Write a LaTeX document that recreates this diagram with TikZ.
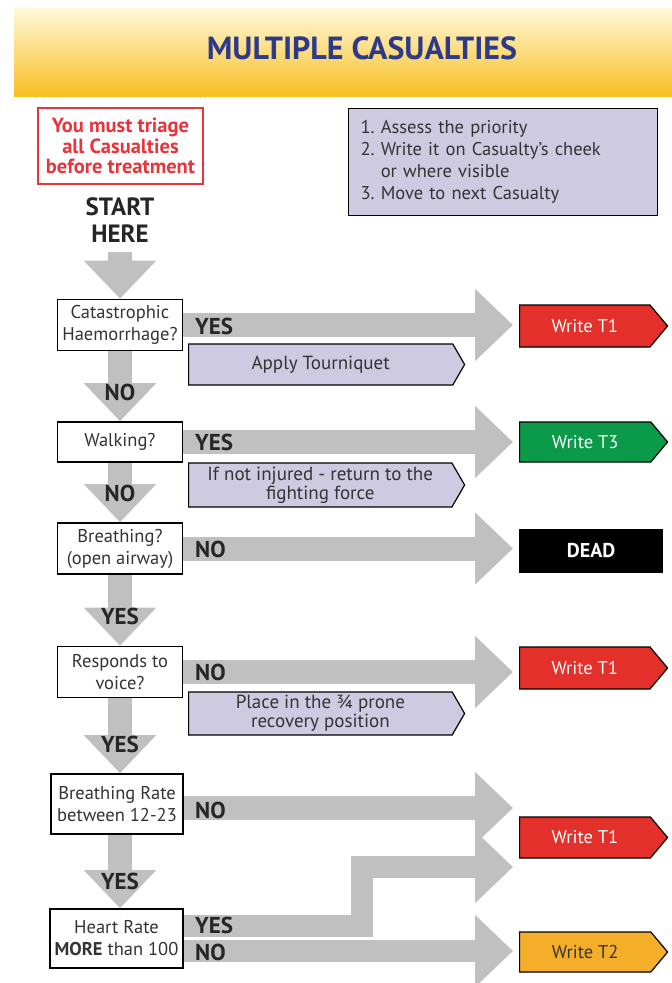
\documentclass[tikz,border=0pt]{standalone}
\usepackage{fontspec}
\setmainfont{PT Sans}
\usetikzlibrary{arrows.meta,shapes.symbols,backgrounds,positioning}

\definecolor{arrowgray}{HTML}{C0C0C0}
\definecolor{lilac}{HTML}{CECAE2}
\definecolor{triagered}{HTML}{E3302A}
\definecolor{triagegreen}{HTML}{0B9A4A}
\definecolor{triageamber}{HTML}{F5AE2A}
\definecolor{titleblue}{HTML}{2D3A8A}
\definecolor{warnred}{HTML}{E8343A}
\definecolor{inkgray}{HTML}{333333}

\tikzset{
  question/.style={draw=black, line width=1.6pt, fill=white, align=center,
    text=inkgray, inner sep=0pt, font=\fontsize{18.5}{22}\selectfont},
  fatarrow/.style={draw=arrowgray, line width=24pt, line join=miter,
    -{Triangle[length=38pt,width=70pt]}},
  outcome/.style={signal, signal to=east, signal pointer angle=100,
    draw=black, line width=1.2pt, anchor=west, minimum width=148pt,
    minimum height=42pt, font=\fontsize{18.5}{20}\selectfont},
  advice/.style={signal, signal to=east, signal pointer angle=120,
    draw=black, line width=1.2pt, fill=lilac, anchor=west, align=center,
    minimum width=276pt, inner sep=0pt, text=inkgray, font=\fontsize{19}{19}\selectfont},
  answer/.style={font=\fontsize{23}{24}\bfseries\selectfont, text=black!85,
    inner sep=0pt},
}

\begin{document}
\begin{tikzpicture}[x=1pt, y=-1pt]
  \useasboundingbox (0,0) rectangle (672,983);

  \node[minimum width=658pt, minimum height=88pt, inner sep=0pt,
    top color=yellow!10!white!95!orange, bottom color=triageamber!80!yellow]
    (banner) at (343,52) {};
  \node[font=\fontsize{32}{34}\bfseries\selectfont, text=titleblue] (title) at (362,48) {MULTIPLE CASUALTIES};

  \node[draw=warnred, line width=1.6pt, text=warnred, align=center,
    minimum width=165pt, minimum height=76pt, inner sep=0pt,
    font=\fontsize{20.5}{20.5}\bfseries\selectfont] (warn) at (120.5,146)
    {You must triage\\all Casualties\\before treatment};
  \node[font=\fontsize{25}{27}\bfseries\selectfont, align=center, text=black!85,
    inner sep=0pt] (start) at (120,220) {START\\HERE};

  \node[draw=black, line width=1.2pt, fill=lilac, anchor=north west,
    minimum width=302pt, minimum height=107pt, text width=285pt, align=left,
    inner xsep=12pt, text=inkgray, font=\fontsize{18.5}{22}\selectfont] (steps) at (348,108)
    {1.~Assess the priority\\2.~Write it on Casualty’s cheek\\
     \phantom{2.~}or where visible\\3.~Move to next Casualty};

  \coordinate (col) at (120,0);

  \node[question, minimum width=125pt, minimum height=51pt] (haem) at (120,325) {Catastrophic\\Haemorrhage?};
  \node[question, minimum width=125pt, minimum height=40pt] (walk) at (120,442) {Walking?};
  \node[question, minimum width=125pt, minimum height=51pt] (breath) at (120,548.5) {Breathing?\\(open airway)};
  \node[question, minimum width=125pt, minimum height=51pt] (voice) at (120,672) {Responds to\\voice?};
  \node[question, minimum width=132pt, minimum height=60pt] (rate) at (117,804) {Breathing Rate\\between 12-23};
  \node[question, minimum width=133pt, minimum height=59pt] (heart) at (116.5,938.5) {Heart Rate\\\textbf{MORE} than 100};

  \node[outcome, fill=triagered, text=white] (t1a) at (519,326) {Write T1};
  \node[outcome, fill=triagegreen, text=white, minimum height=40pt] (t3) at (519,442) {Write T3};
  \node[draw=black, line width=1.2pt, fill=black, text=white, anchor=west,
    minimum width=143pt, minimum height=42pt,
    font=\fontsize{20}{20}\bfseries\selectfont] (dead) at (519,551) {DEAD};
  \node[outcome, fill=triagered, text=white] (t1b) at (519,668) {Write T1};
  \node[outcome, fill=triagered, text=white, minimum height=41pt] (t1c) at (519,837.5) {Write T1};
  \node[outcome, fill=triageamber, text=inkgray, minimum height=40pt] (t2) at (519,952) {Write T2};

  \node[advice, minimum height=41pt] (tourniquet) at (188,364.5) {Apply Tourniquet};
  \node[advice, minimum height=44pt] (fighting) at (188,485) {If not injured - return to the\\fighting force};
  \node[advice, minimum height=43pt] (recovery) at (188,713.5) {Place in the ¾ prone\\recovery position};

  \coordinate (bend) at (362,867);

  \begin{scope}[on background layer]
    \draw[fatarrow] (start.south |- 0,252) -- (haem.north);
    \draw[fatarrow] (haem.south) -- (walk.north);
    \draw[fatarrow] (walk.south) -- (breath.north);
    \draw[fatarrow] (breath.south) -- (voice.north);
    \draw[fatarrow] (voice.south) -- (rate.north -| col);
    \draw[fatarrow] (rate.south -| col) -- (heart.north -| col);

    \draw[fatarrow, shorten >=6pt] (haem.east) -- (haem.east -| t1a.west);
    \draw[fatarrow, shorten >=6pt] (walk.east) -- (t3.west);
    \draw[fatarrow, shorten >=6pt] (breath.east) -- (breath.east -| dead.west);
    \draw[fatarrow, shorten >=6pt] (voice.east) -- (voice.east -| t1b.west);
    \draw[fatarrow, shorten >=6pt] ([yshift=-4pt]rate.east) -- ([yshift=-4pt]rate.east -| t1c.west);
    \draw[fatarrow, line width=22pt, shorten >=6pt] ([yshift=12.5pt]heart.east) -| (bend) -- (bend -| t1c.west);
    \draw[fatarrow, line width=22pt, shorten >=6pt] ([yshift=-12.5pt]heart.east) -- ([yshift=-12.5pt]heart.east -| t2.west);
  \end{scope}

  \node[answer, anchor=west] (yes1) at (195,326) {YES};
  \node[answer, anchor=west] (yes2) at (195,442) {YES};
  \node[answer, anchor=west] (no3) at (195,549) {NO};
  \node[answer, anchor=west] (no4) at (195,672) {NO};
  \node[answer, anchor=west] (no5) at (195,810) {NO};
  \node[answer, anchor=west] (yes6) at (195,925) {YES};
  \node[answer, anchor=west] (no6) at (195,952) {NO};

  \node[answer] (no1) at ([yshift=29pt]walk.north) {NO};
  \node[answer] (no2) at ([yshift=29pt]breath.north) {NO};
  \node[answer] (yes3) at ([yshift=29pt]voice.north) {YES};
  \node[answer] (yes4) at ([yshift=29pt]rate.north -| col) {YES};
  \node[answer] (yes5) at ([yshift=27pt]heart.north -| col) {YES};
\end{tikzpicture}
\end{document}
